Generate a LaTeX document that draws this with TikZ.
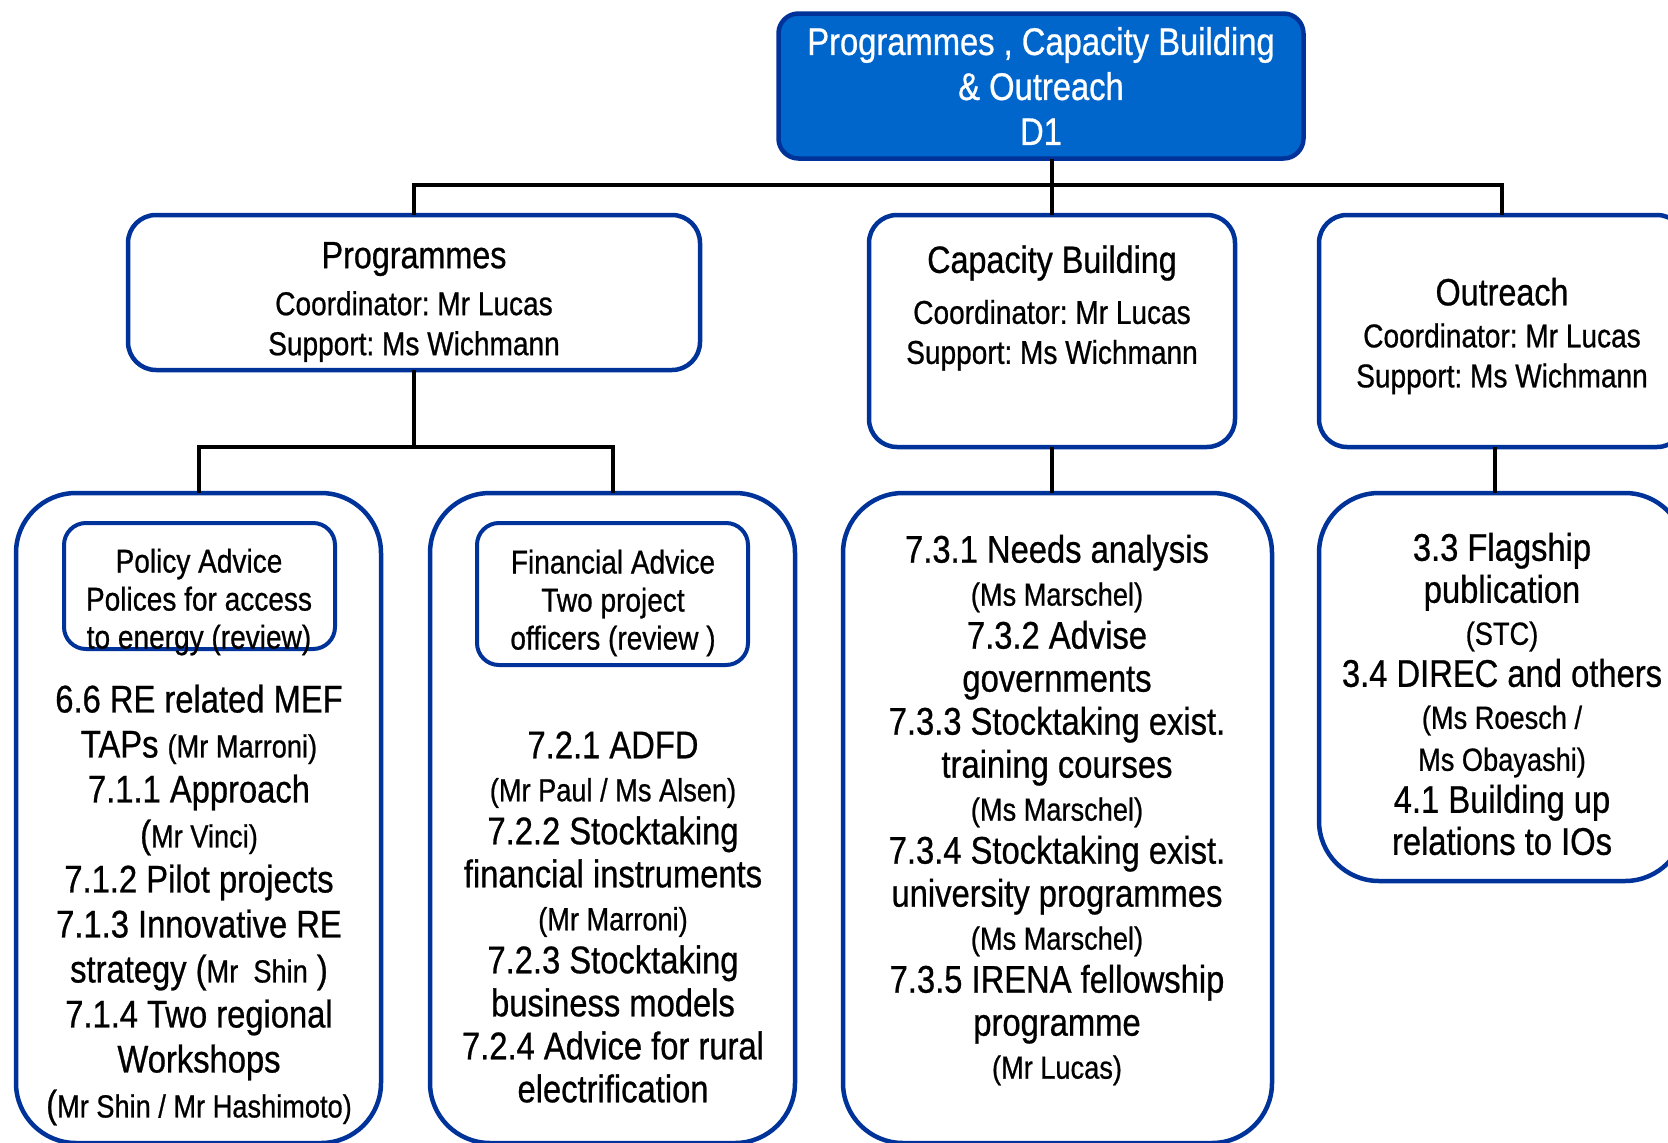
\documentclass[tikz,border=0pt]{standalone}
\usepackage{fontspec}
\setmainfont{Liberation Sans}[FakeStretch=0.85, FakeBold=0.7]
\usetikzlibrary{positioning}
\frenchspacing
\definecolor{headblue}{HTML}{0066CC}
\definecolor{frameblue}{HTML}{003399}
\newcommand{\headfont}{\fontsize{38.5}{45}\selectfont}
\newcommand{\unitfont}{\fontsize{33}{40}\selectfont}
\newcommand{\titlesize}{\fontsize{38}{40}\selectfont}
\newcommand{\advicefont}{\fontsize{33}{38}\selectfont}
\newcommand{\taskfont}{\fontsize{38.5}{43}\selectfont}
\newcommand{\namesize}{\fontsize{32}{43}\selectfont}
\tikzset{
box/.style={draw=frameblue, line width=4.5pt, fill=white}, % blue frame of every unit
headbox/.style={box, fill=headblue, rounded corners=20pt}, % the department itself
unitbox/.style={box, rounded corners=28pt}, % the three units
taskbox/.style={box, rounded corners=60pt}, % big boxes with the outputs
advicebox/.style={box, line width=4pt, rounded corners=22pt}, % small boxes on top
txt/.style={inner sep=0pt, align=center}, % all the texts
link/.style={line width=4pt, line cap=rect}, % black connectors
}

\begin{document}
\begin{tikzpicture}[x=1pt, y=-1pt]
        \useasboundingbox (0,0) rectangle (1668,1143);

        % department
        \node[headbox, minimum width=525pt, minimum height=145pt] (d1) at (1041,86) {};
        \node[txt, text=white, font=\headfont] (d1text) at (1041,86) {Programmes , Capacity Building\\\& Outreach\\D1};

        % units
        \node[unitbox, minimum width=572pt, minimum height=155pt] (prog) at (414,292.5) {};
        \node[unitbox, minimum width=366pt, minimum height=232pt] (cap) at (1052,331) {};
        \node[unitbox, minimum width=366pt, minimum height=232pt] (out) at (1502,331) {};
        \node[txt, font=\unitfont] (progtext) at (414,302) {{\titlesize Programmes}\\[7pt]Coordinator: Mr Lucas\\Support: Ms Wichmann};
        \node[txt, font=\unitfont] (captext) at (1052,308) {{\titlesize Capacity Building}\\[11pt]Coordinator: Mr Lucas\\Support: Ms Wichmann};
        \node[txt, font=\unitfont] (outtext) at (1502,336) {{\titlesize Outreach}\\[2pt]Coordinator: Mr Lucas\\Support: Ms Wichmann};

        % outputs
        \node[taskbox, minimum width=365pt, minimum height=650pt] (pol) at (198.5,818) {};
        \node[taskbox, minimum width=365pt, minimum height=650pt] (fin) at (612.5,818) {};
        \node[taskbox, minimum width=429pt, minimum height=650pt] (capdet) at (1057.5,818) {};
        \node[taskbox, minimum width=366pt, minimum height=388pt] (outdet) at (1502,687) {};

        \node[advicebox, minimum width=271pt, minimum height=126pt] (poladv) at (199.5,586) {};
        \node[advicebox, minimum width=271pt, minimum height=142pt] (finadv) at (612.5,594) {};
        \node[txt, font=\advicefont] (poladvtext) at (199,602) {Policy Advice\\Polices for access\\to energy (review)};
        \node[txt, font=\advicefont] (finadvtext) at (613,603) {Financial Advice\\Two project\\officers (review )};

        \node[txt, font=\fontsize{38.5}{45}\selectfont] (poltext) at (199,905) {6.6 RE related MEF\\TAPs {\namesize(Mr Marroni)}\\7.1.1 Approach\\({\namesize Mr Vinci)}\\7.1.2 Pilot projects\\7.1.3 Innovative RE\\strategy ({\namesize Mr~~Shin} )\\7.1.4 Two regional\\Workshops\\({\namesize Mr Shin / Mr Hashimoto)}};
        \node[txt, font=\taskfont] (fintext) at (613,917) {7.2.1 ADFD\\{\namesize(Mr Paul / Ms Alsen)}\\7.2.2 Stocktaking\\financial instruments\\{\namesize(Mr Marroni)}\\7.2.3 Stocktaking\\business models\\7.2.4 Advice for rural\\electrification};
        \node[txt, font=\taskfont] (captasks) at (1057,810) {7.3.1 Needs analysis\\{\namesize(Ms Marschel)}\\7.3.2 Advise\\governments\\7.3.3 Stocktaking exist.\\training courses\\{\namesize(Ms Marschel)}\\7.3.4 Stocktaking exist.\\university programmes\\{\namesize(Ms Marschel)}\\7.3.5 IRENA fellowship\\programme\\{\namesize(Mr Lucas)}};
        \node[txt, font=\fontsize{38.5}{42}\selectfont] (outtasks) at (1502,694) {3.3 Flagship\\publication\\{\namesize(STC)}\\3.4 DIREC and others\\{\namesize(Ms Roesch /}\\{\namesize Ms Obayashi)}\\4.1 Building up\\relations to IOs};

        % connectors
        \coordinate (bus) at (0,185);
        \coordinate (progbus) at (0,447);
        \draw[link] (d1.south -| cap.north) -- (cap.north);
        \draw[link] (prog.north) -- (prog.north |- bus) -- (out.north |- bus) -- (out.north);
        \draw[link] (prog.south) -- (prog.south |- progbus);
        \draw[link] (pol.north) -- (pol.north |- progbus) -- (fin.north |- progbus) -- (fin.north);
        \draw[link] (cap.south) -- (cap.south |- capdet.north);
        \draw[link] ([xshift=-7pt]out.south) -- ([xshift=-7pt]outdet.north);
    \end{tikzpicture}
\end{document}
